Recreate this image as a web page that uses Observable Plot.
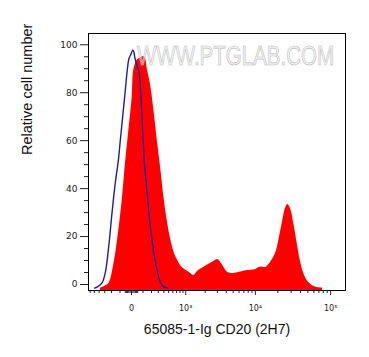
<!DOCTYPE html>
<html><head><meta charset="utf-8">
<script src="https://cdn.jsdelivr.net/npm/d3@7"></script>
<script src="https://cdn.jsdelivr.net/npm/@observablehq/plot@0.6"></script>
<style>html,body{margin:0;padding:0;background:#fff;}</style>
</head><body><div id="chart"></div>
<script>
// Sample (CD20 stained) histogram
const redX = [-374,-304,-237,-170,-113,-78,-48,-20,5,17,45,75,108,127,146,187,232,283,338,399,468,543,625,719,875,1122,1344,1587,1886,2234,2665,3039,3506,4119,4832,6286,7754,10037,11720,13673,15946,18593,20582,22834,25250,27096,29424,32544,36120,39936,44160,48960,57024,66384,78024];
const redY = [-1.5,-0.8,0.4,8.3,22.5,35.0,50.5,64.2,78.0,89.3,93.5,94.5,95.1,94.3,90.1,83.4,73.0,60.5,49.2,36.7,26.7,19.2,13.8,10.4,7.1,5.2,3.8,5.8,7.1,8.3,9.6,10.4,8.3,5.2,4.6,5.2,5.8,6.3,7.3,7.1,9.2,12.9,18.4,25.4,31.7,33.4,31.7,25.4,17.1,9.6,4.6,1.7,-0.4,-1.3,-1.5];
// Isotype control histogram
const blueX = [-496,-432,-343,-288,-237,-191,-150,-116,-95,-63,-48,-33,-19,-7,10,19,27,45,59,75,92,114,146,187,232,283,338,399,474];
const blueY = [-1.5,-1.0,0.8,5.4,16.3,30.5,43.0,52.2,60.9,74.7,81.8,89.3,94.3,95.7,97.8,96.8,94.3,90.9,89.3,81.8,68.0,51.7,38.0,23.4,13.3,5.8,0.8,-1.0,-1.5];

const xMajorTicks = [0, 1000, 10000, 100000];
const xMinorTicks = [-600,-500,-400,-300,-200,-100,-50,-40,-30,-20,-10,10,20,30,40,50,100,200,300,400,500,600,700,800,900,2000,3000,4000,5000,6000,7000,8000,9000,20000,30000,40000,50000,60000,70000,80000,90000];
const yMajorTicks = [0, 20, 40, 60, 80, 100];
const yMinorTicks = [5,10,15,25,30,35,45,50,55,65,70,75,85,90,95];
const xTitle = "65085-1-Ig CD20 (2H7)";
const yTitle = "Relative cell number";
const watermark = "WWW.PTGLAB.COM";

const red = redX.map((x, i) => ({x, y: redY[i]}));
const blue = blueX.map((x, i) => ({x, y: blueY[i]}));
const xDomain = [-643, 156900];
const yDomain = [-2.5, 104.7];
const sup = {3: "\u00B3", 4: "\u2074", 5: "\u2075"};
const fmtX = d => d === 0 ? "0" : "10" + sup[Math.round(Math.log10(d))];

const chart = Plot.plot({
  width: 369, height: 357,
  marginLeft: 88, marginRight: 24, marginTop: 33, marginBottom: 67,
  style: {fontFamily: "DejaVu Sans", background: "white", color: "#222"},
  x: {type: "symlog", constant: 240, domain: xDomain},
  y: {domain: yDomain},
  marks: [
    Plot.areaY(red, {x: "x", y1: yDomain[0], y2: "y", fill: "#ff0000", curve: "catmull-rom"}),
    Plot.line(blue, {x: "x", y: "y", stroke: "#1e1ea6", strokeWidth: 1.4, curve: "catmull-rom"}),
    Plot.frame({stroke: "black", strokeWidth: 1}),
    Plot.axisY({ticks: yMajorTicks, tickSize: 8, tickPadding: 3, fontSize: 9, label: null}),
    Plot.axisY({ticks: yMinorTicks, tickSize: 4, tickFormat: () => "", label: null}),
    Plot.axisX({ticks: xMajorTicks, tickSize: 5, tickPadding: 10, fontSize: 8, tickFormat: fmtX, label: null}),
    Plot.axisX({ticks: xMinorTicks, tickSize: 3, tickFormat: () => "", label: null}),
    Plot.text([xTitle], {text: d => d, frameAnchor: "bottom", dy: 43, fontSize: 14, fontFamily: "Liberation Sans", fill: "#111"}),
    Plot.text([yTitle], {text: d => d, frameAnchor: "left", dx: -61, dy: -7, rotate: -90, fontSize: 14.5, fontFamily: "Liberation Sans", fill: "#111"})
  ]
});
// watermark, horizontally condensed
d3.select(chart).append("text")
  .text(watermark)
  .attr("transform", "translate(235.5,55) scale(0.76,1)")
  .attr("text-anchor", "middle")
  .attr("dy", "0.36em")
  .attr("font-family", "Liberation Sans")
  .attr("font-size", 27)
  .attr("fill", "#eeeeee").attr("fill-opacity", 0.55)
  .attr("stroke", "#bdbdbd").attr("stroke-width", 0.7);
document.getElementById("chart").append(chart);
</script>
</body></html>
